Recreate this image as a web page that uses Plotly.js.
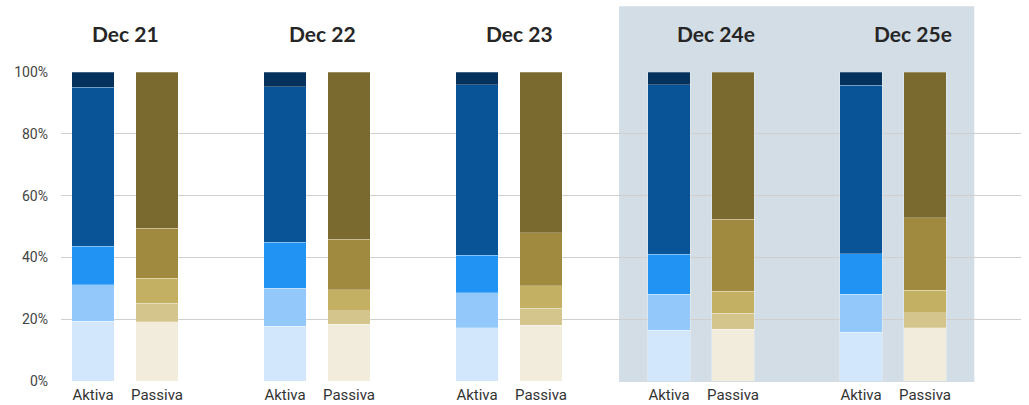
<!DOCTYPE html>
<html>
<head>
<meta charset="utf-8">
<script src="https://cdn.plot.ly/plotly-3.0.1.min.js"></script>
<style>html,body{margin:0;padding:0;background:#fff;}#chart{width:1029px;height:405px;}</style>
</head>
<body>
<div id="chart"></div>
<script>
// Periods
const periods = ["Dec 21", "Dec 22", "Dec 23", "Dec 24e", "Dec 25e"];
const sideLabels = ["Aktiva", "Passiva"];
const yTicks = [0, 20, 40, 60, 80, 100];
const yTickLabels = ["0%", "20%", "40%", "60%", "80%", "100%"];

// Aktiva segments (%), bottom to top
const aktiva1 = [19.3, 17.8, 17.3, 16.4, 15.8];
const aktiva2 = [11.9, 12.2, 11.2, 11.7, 12.2];
const aktiva3 = [12.4, 14.9, 12.2, 12.9, 13.2];
const aktiva4 = [51.4, 50.4, 55.2, 54.9, 54.5];
const aktiva5 = [5.0, 4.7, 4.1, 4.1, 4.3];

// Passiva segments (%), bottom to top
const passiva1 = [19.1, 18.3, 18.0, 16.7, 17.3];
const passiva2 = [6.0, 4.4, 5.5, 5.3, 4.8];
const passiva3 = [8.1, 6.8, 7.4, 7.0, 7.3];
const passiva4 = [16.2, 16.4, 17.1, 23.4, 23.4];
const passiva5 = [50.6, 54.1, 52.0, 47.6, 47.2];

const aktivaColors = ["#d2e7fb", "#93c8fa", "#2193f3", "#085497", "#05325c"];
const passivaColors = ["#f2ecdc", "#d4c58c", "#c3b063", "#a08a40", "#7b6a2f"];

const estimatedPeriods = ["Dec 24e", "Dec 25e"];

const xA = periods.map((p, i) => i * 3);
const xP = periods.map((p, i) => i * 3 + 1);

const traces = [];
[aktiva1, aktiva2, aktiva3, aktiva4, aktiva5].forEach((vals, k) => {
  traces.push({type: "bar", x: xA, y: vals, width: 0.667,
    marker: {color: aktivaColors[k], line: {width: 1, color: "rgba(255,255,255,0.25)"}},
    hoverinfo: "y", showlegend: false});
});
[passiva1, passiva2, passiva3, passiva4, passiva5].forEach((vals, k) => {
  traces.push({type: "bar", x: xP, y: vals, width: 0.667,
    marker: {color: passivaColors[k], line: {width: 1, color: "rgba(255,255,255,0.25)"}},
    hoverinfo: "y", showlegend: false});
});

const tickvals = [], ticktext = [];
periods.forEach((p, i) => {
  tickvals.push(i * 3, i * 3 + 1);
  ticktext.push(sideLabels[0], sideLabels[1]);
});

const annotations = periods.map((p, i) => ({
  text: "<b>" + p + "</b>", x: i * 3 + 0.5 + i * 0.08, xref: "x",
  y: (405 - 24.3 - 33) / 309, yref: "paper", yanchor: "middle", xanchor: "center", showarrow: false,
  font: {family: "Lato, 'Open Sans', sans-serif", size: 21, color: "#262626"}
}));

const firstEst = periods.indexOf(estimatedPeriods[0]);
const lastEst = periods.indexOf(estimatedPeriods[estimatedPeriods.length - 1]);

const layout = {
  width: 1029, height: 405,
  margin: {l: 61, r: 8, t: 71.7, b: 24.3},
  paper_bgcolor: "#ffffff", plot_bgcolor: "rgba(0,0,0,0)",
  barmode: "stack",
  xaxis: {range: [-0.5, 14.5], tickmode: "array", tickvals: tickvals, ticktext: ticktext,
    showgrid: false, zeroline: false, showline: false, ticks: "", ticklabelstandoff: 3,
    tickfont: {family: "Roboto, sans-serif", size: 15, color: "#333"}, fixedrange: true},
  yaxis: {range: [0, 100], tickmode: "array", tickvals: yTicks, ticktext: yTickLabels,
    showgrid: true, gridcolor: "#cfcfcf", gridwidth: 1, zeroline: false, ticklabelstandoff: 12,
    tickfont: {family: "Roboto, sans-serif", size: 14, color: "#444"}, fixedrange: true},
  shapes: [{type: "rect", layer: "below", xref: "x", yref: "paper",
    x0: firstEst * 3 - 0.78, x1: lastEst * 3 + 1.77,
    y0: -0.003, y1: (405 - 24.3 - 6) / 309,
    fillcolor: "#d3dde5", line: {width: 0}}],
  annotations: annotations
};

Plotly.newPlot("chart", traces, layout, {displayModeBar: false, staticPlot: true});
</script>
</body>
</html>
